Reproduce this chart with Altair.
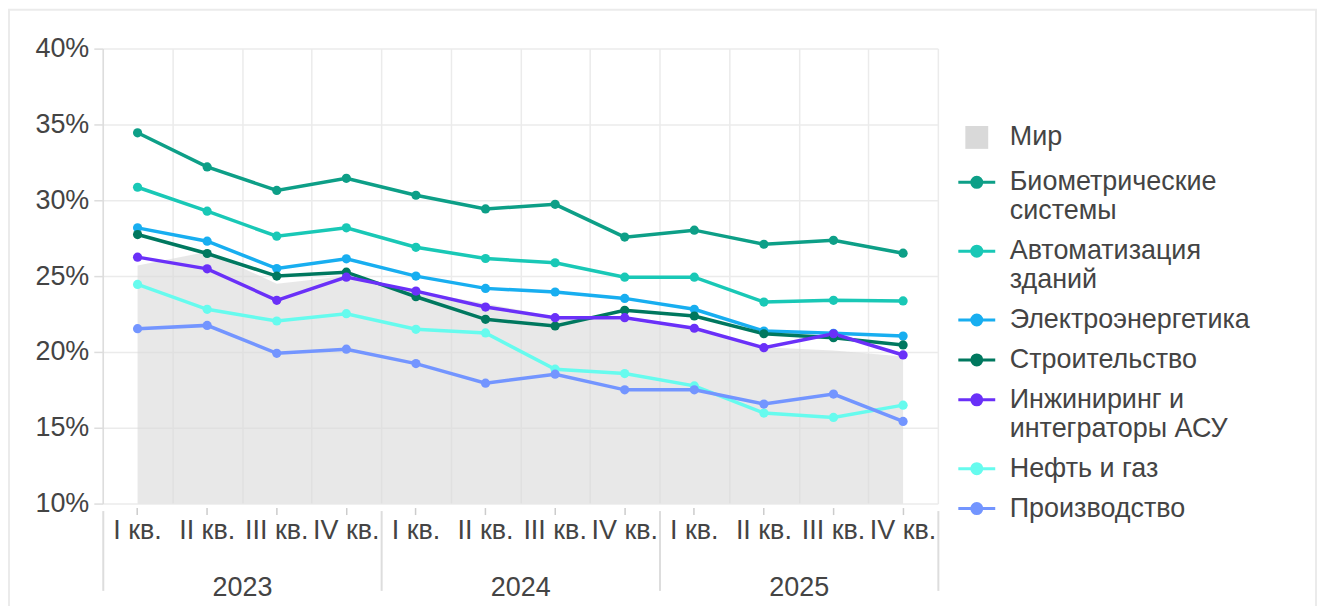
import altair as alt
import pandas as pd

years = [2023, 2024, 2025]
quarters = ["I кв.", "II кв.", "III кв.", "IV кв."]

series_names = [
    "Биометрические\nсистемы",
    "Автоматизация\nзданий",
    "Электроэнергетика",
    "Строительство",
    "Инжиниринг и\nинтеграторы АСУ",
    "Нефть и газ",
    "Производство",
]
series_colors = ["#0d9f87", "#19c8b6", "#18aef0", "#00785f", "#6a30f8", "#66fbee", "#7395ff"]

bio = [34.45, 32.2, 30.65, 31.45, 30.33, 29.43, 29.73, 27.57, 28.03, 27.1, 27.36, 26.51]
avt = [30.86, 29.28, 27.63, 28.18, 26.9, 26.16, 25.88, 24.93, 24.93, 23.29, 23.4, 23.36]
elec = [28.18, 27.3, 25.5, 26.14, 25.0, 24.19, 23.95, 23.53, 22.81, 21.38, 21.23, 21.05]
stroi = [27.74, 26.49, 25.0, 25.26, 23.64, 22.15, 21.71, 22.74, 22.37, 21.2, 20.94, 20.46]
inzh = [26.25, 25.48, 23.4, 24.93, 24.01, 22.96, 22.26, 22.26, 21.56, 20.28, 21.2, 19.8]
neft = [24.45, 22.81, 22.04, 22.52, 21.49, 21.25, 18.86, 18.57, 17.76, 15.97, 15.68, 16.49]
proizv = [21.53, 21.75, 19.91, 20.18, 19.23, 17.94, 18.53, 17.5, 17.5, 16.56, 17.22, 15.42]
world_name = "Мир"
world = [25.7, 26.6, 24.5, 25.0, 24.0, 23.2, 22.3, 22.1, 21.5, 20.3, 20.1, 19.7]

series_values = [bio, avt, elec, stroi, inzh, neft, proizv]

keys = [f"{y}|{q}" for y in years for q in quarters]
key_years = [y for y in years for q in quarters]

rows = []
for name, vals in zip(series_names, series_values):
    for k, yv, v in zip(keys, key_years, vals):
        rows.append({"key": k, "year": yv, "series": name, "value": v})
lines_df = pd.DataFrame(rows)
world_df = pd.DataFrame({"key": keys, "year": key_years, "series": world_name, "value": world})
all_df = pd.concat([world_df, lines_df], ignore_index=True)

legend_domain = [world_name] + series_names
fill_range = ["#d9d9d9"] + series_colors
stroke_range = ["transparent"] + series_colors
line_path = "M-1,0L1,0M0.27,0A0.27,0.27,0,1,1,-0.27,0A0.27,0.27,0,1,1,0.27,0Z"
square_path = "M-0.62,-0.62L0.62,-0.62L0.62,0.62L-0.62,0.62Z"
shape_range = [square_path] + [line_path] * len(series_names)

fill_scale = alt.Scale(domain=legend_domain, range=fill_range)
stroke_scale = alt.Scale(domain=legend_domain, range=stroke_range)
shape_scale = alt.Scale(domain=legend_domain, range=shape_range)

legend = alt.Legend(
    title=None,
    orient="none",
    legendX=856,
    legendY=69,
    labelFontSize=27,
    labelColor="#444444",
    labelFont="Liberation Sans",
    labelLimit=500,
    labelOffset=13,
    symbolSize=1369,
    symbolStrokeWidth=3,
    symbolOpacity=1,
    rowPadding=7,
    labelExpr="split(datum.label, '\\n')",
)

xq_scale = alt.Scale(type="band", domain=keys, paddingInner=0, paddingOuter=0)
y_scale = alt.Scale(domain=[10, 40], nice=False, zero=False)
y_axis = alt.Axis(
    values=[10, 15, 20, 25, 30, 35, 40],
    labelExpr="datum.value + '%'",
    title=None,
    labelFontSize=27,
    labelColor="#444444",
    labelPadding=5,
    tickSize=9,
    tickColor="#dddddd",
    tickWidth=1.5,
    domainColor="#dddddd",
    domainWidth=1.5,
    gridColor="#ebebeb",
    gridWidth=1.5,
)

grid_axis = alt.Axis(
    orient="bottom", title=None, labels=False, ticks=False, domain=False, grid=True,
    tickBand="extent", gridColor="#ebebeb", gridWidth=1.5,
)
label_axis = alt.Axis(
    orient="bottom", title=None, grid=False, domain=False, labelFontSize=27, labelColor="#444444",
    labelExpr="split(datum.label, '|')[1]", ticks=True, tickSize=7, tickColor="#cccccc",
    tickWidth=1.5, offset=4, labelPadding=3, labelAngle=0, labelLimit=200,
)
year_axis = alt.Axis(
    orient="bottom", title=None, grid=False, domain=False, labelFontSize=27, labelColor="#444444",
    tickBand="extent", tickSize=80, tickColor="#dddddd", tickWidth=2,
    offset=7, labelPadding=-16, labelAngle=0,
)

frame = alt.Chart(pd.DataFrame({"a": [0]})).mark_rect(
    fillOpacity=0, stroke="#ebebeb", strokeWidth=2
).encode(
    x=alt.value(-94), x2=alt.value(1216), y=alt.value(-39), y2=alt.value(580)
)

area = alt.Chart(world_df).mark_area(opacity=0.6).encode(
    x=alt.X("key:O", scale=xq_scale, axis=grid_axis, bandPosition=0.5, sort=keys),
    y=alt.Y("value:Q", scale=y_scale, axis=y_axis),
    y2=alt.datum(10),
    fill=alt.Fill("series:N", scale=fill_scale, legend=legend),
)

lines = alt.Chart(lines_df).mark_line(strokeWidth=3.5).encode(
    x=alt.X("key:O", scale=xq_scale, axis=None, bandPosition=0.5, sort=keys),
    y=alt.Y("value:Q", scale=y_scale, axis=y_axis),
    stroke=alt.Stroke("series:N", scale=stroke_scale, legend=legend),
    detail="series:N",
)

points = alt.Chart(lines_df).mark_circle(size=85, opacity=1).encode(
    x=alt.X("key:O", scale=xq_scale, axis=label_axis, bandPosition=0.5, sort=keys),
    y=alt.Y("value:Q", scale=y_scale, axis=y_axis),
    fill=alt.Fill("series:N", scale=fill_scale, legend=legend),
)

legend_layer = alt.Chart(all_df).mark_point(filled=True, opacity=0).encode(
    x=alt.X("key:O", scale=xq_scale, axis=None, bandPosition=0.5, sort=keys),
    y=alt.Y("value:Q", scale=y_scale, axis=y_axis),
    fill=alt.Fill("series:N", scale=fill_scale, legend=legend),
    stroke=alt.Stroke("series:N", scale=stroke_scale, legend=legend),
    shape=alt.Shape("series:N", scale=shape_scale, legend=legend),
)

year_layer = alt.Chart(world_df).mark_point(opacity=0).encode(
    x=alt.X("year:O", scale=alt.Scale(type="band", domain=years, paddingInner=0, paddingOuter=0), axis=year_axis),
    y=alt.value(0),
)

chart = alt.layer(frame, area, lines, points, legend_layer, year_layer).resolve_scale(
    x="independent"
).resolve_axis(x="independent").properties(
    width=837, height=456, padding=0
).configure(
    font="Liberation Sans"
).configure_view(stroke=None)

chart.save("out.html", embed_options={"renderer": "svg", "actions": False})
